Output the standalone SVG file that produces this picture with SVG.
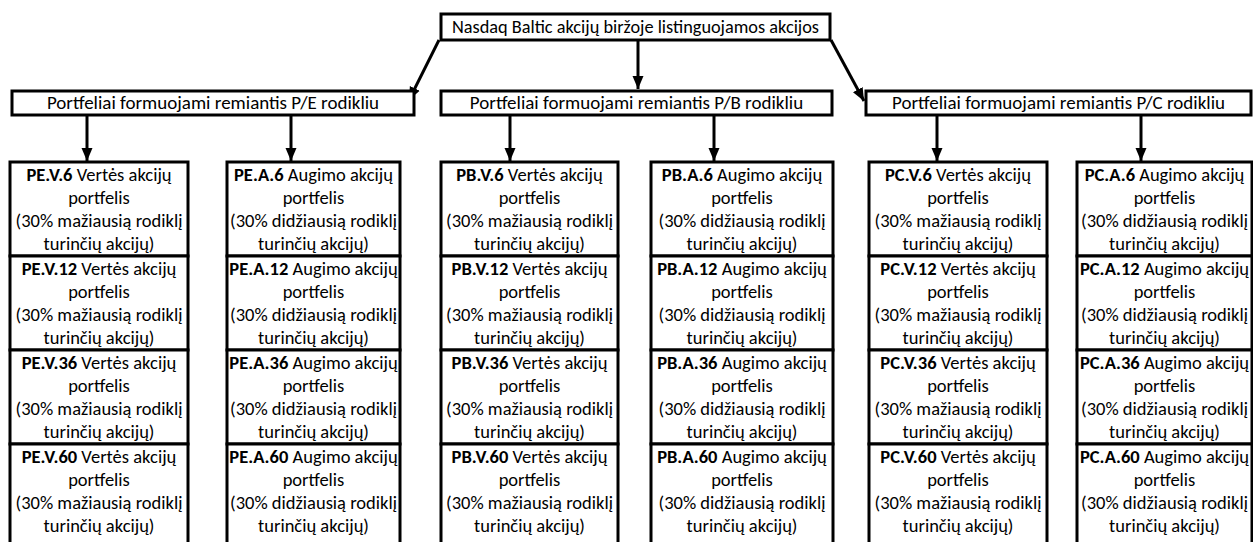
<svg xmlns="http://www.w3.org/2000/svg" width="1253" height="542" viewBox="0 0 1253 542">
<defs>
<style>
.box{fill:#fff;stroke:#000;stroke-width:3}
.t{font-family:Carlito,Lato,"Liberation Sans",sans-serif;font-size:19px;fill:#000;text-anchor:middle}
.h{font-size:18.3px}
.s{font-size:18.5px}
.b{font-weight:bold}
.c{stroke:#000;stroke-width:3;fill:none}
</style>
<marker id="ah" markerUnits="userSpaceOnUse" markerWidth="14" markerHeight="14" viewBox="0 0 14 14" refX="13" refY="7" orient="auto">
<path d="M0,1.5 L13,7 L0,12.5 Z" fill="#000"/>
</marker>
</defs>
<rect width="1253" height="542" fill="#fff"/>
<g id="connectors">
<line class="c" x1="638" y1="40" x2="638" y2="89" marker-end="url(#ah)"/>
<line class="c" x1="439" y1="40" x2="409" y2="100" marker-end="url(#ah)"/>
<line class="c" x1="831" y1="40" x2="864" y2="101" marker-end="url(#ah)"/>
<line class="c" x1="87" y1="115" x2="87" y2="161" marker-end="url(#ah)"/>
<line class="c" x1="291" y1="115" x2="291" y2="161" marker-end="url(#ah)"/>
<line class="c" x1="510" y1="115" x2="510" y2="161" marker-end="url(#ah)"/>
<line class="c" x1="714" y1="115" x2="714" y2="161" marker-end="url(#ah)"/>
<line class="c" x1="937" y1="115" x2="937" y2="161" marker-end="url(#ah)"/>
<line class="c" x1="1141" y1="115" x2="1141" y2="161" marker-end="url(#ah)"/>
</g>
<g id="root"><rect class="box" x="441" y="14" width="389" height="26"/><text class="t h" x="635.5" y="33">Nasdaq Baltic akcijų biržoje listinguojamos akcijos</text></g>
<g id="pe"><rect class="box" x="12" y="91" width="402" height="24"/><text class="t" x="213" y="109">Portfeliai formuojami remiantis P/E rodikliu</text></g>
<g id="pb"><rect class="box" x="441" y="91" width="391" height="24"/><text class="t" x="636.5" y="109">Portfeliai formuojami remiantis P/B rodikliu</text></g>
<g id="pc"><rect class="box" x="866" y="91" width="385" height="24"/><text class="t" x="1058.5" y="109">Portfeliai formuojami remiantis P/C rodikliu</text></g>

<g id="PE.V.6"><rect class="box" x="10" y="162" width="178" height="94"/><text class="t s"><tspan x="99" y="181"><tspan class="b">PE.V.6</tspan> Vertės akcijų</tspan><tspan x="99" y="204">portfelis</tspan><tspan x="99" y="227">(30% mažiausią rodiklį</tspan><tspan x="99" y="250">turinčių akcijų)</tspan></text></g>
<g id="PE.V.12"><rect class="box" x="10" y="256" width="178" height="94"/><text class="t s"><tspan x="99" y="275"><tspan class="b">PE.V.12</tspan> Vertės akcijų</tspan><tspan x="99" y="298">portfelis</tspan><tspan x="99" y="321">(30% mažiausią rodiklį</tspan><tspan x="99" y="344">turinčių akcijų)</tspan></text></g>
<g id="PE.V.36"><rect class="box" x="10" y="350" width="178" height="94"/><text class="t s"><tspan x="99" y="369"><tspan class="b">PE.V.36</tspan> Vertės akcijų</tspan><tspan x="99" y="392">portfelis</tspan><tspan x="99" y="415">(30% mažiausią rodiklį</tspan><tspan x="99" y="438">turinčių akcijų)</tspan></text></g>
<g id="PE.V.60"><rect class="box" x="10" y="444" width="178" height="102"/><text class="t s"><tspan x="99" y="463"><tspan class="b">PE.V.60</tspan> Vertės akcijų</tspan><tspan x="99" y="486">portfelis</tspan><tspan x="99" y="509">(30% mažiausią rodiklį</tspan><tspan x="99" y="532">turinčių akcijų)</tspan></text></g>

<g id="PE.A.6"><rect class="box" x="227" y="162" width="173" height="94"/><text class="t s"><tspan x="313.5" y="181"><tspan class="b">PE.A.6</tspan> Augimo akcijų</tspan><tspan x="313.5" y="204">portfelis</tspan><tspan x="313.5" y="227">(30% didžiausią rodiklį</tspan><tspan x="313.5" y="250">turinčių akcijų)</tspan></text></g>
<g id="PE.A.12"><rect class="box" x="227" y="256" width="173" height="94"/><text class="t s"><tspan x="313.5" y="275"><tspan class="b">PE.A.12</tspan> Augimo akcijų</tspan><tspan x="313.5" y="298">portfelis</tspan><tspan x="313.5" y="321">(30% didžiausią rodiklį</tspan><tspan x="313.5" y="344">turinčių akcijų)</tspan></text></g>
<g id="PE.A.36"><rect class="box" x="227" y="350" width="173" height="94"/><text class="t s"><tspan x="313.5" y="369"><tspan class="b">PE.A.36</tspan> Augimo akcijų</tspan><tspan x="313.5" y="392">portfelis</tspan><tspan x="313.5" y="415">(30% didžiausią rodiklį</tspan><tspan x="313.5" y="438">turinčių akcijų)</tspan></text></g>
<g id="PE.A.60"><rect class="box" x="227" y="444" width="173" height="102"/><text class="t s"><tspan x="313.5" y="463"><tspan class="b">PE.A.60</tspan> Augimo akcijų</tspan><tspan x="313.5" y="486">portfelis</tspan><tspan x="313.5" y="509">(30% didžiausią rodiklį</tspan><tspan x="313.5" y="532">turinčių akcijų)</tspan></text></g>

<g id="PB.V.6"><rect class="box" x="441" y="162" width="177" height="94"/><text class="t s"><tspan x="529.5" y="181"><tspan class="b">PB.V.6</tspan> Vertės akcijų</tspan><tspan x="529.5" y="204">portfelis</tspan><tspan x="529.5" y="227">(30% mažiausią rodiklį</tspan><tspan x="529.5" y="250">turinčių akcijų)</tspan></text></g>
<g id="PB.V.12"><rect class="box" x="441" y="256" width="177" height="94"/><text class="t s"><tspan x="529.5" y="275"><tspan class="b">PB.V.12</tspan> Vertės akcijų</tspan><tspan x="529.5" y="298">portfelis</tspan><tspan x="529.5" y="321">(30% mažiausią rodiklį</tspan><tspan x="529.5" y="344">turinčių akcijų)</tspan></text></g>
<g id="PB.V.36"><rect class="box" x="441" y="350" width="177" height="94"/><text class="t s"><tspan x="529.5" y="369"><tspan class="b">PB.V.36</tspan> Vertės akcijų</tspan><tspan x="529.5" y="392">portfelis</tspan><tspan x="529.5" y="415">(30% mažiausią rodiklį</tspan><tspan x="529.5" y="438">turinčių akcijų)</tspan></text></g>
<g id="PB.V.60"><rect class="box" x="441" y="444" width="177" height="102"/><text class="t s"><tspan x="529.5" y="463"><tspan class="b">PB.V.60</tspan> Vertės akcijų</tspan><tspan x="529.5" y="486">portfelis</tspan><tspan x="529.5" y="509">(30% mažiausią rodiklį</tspan><tspan x="529.5" y="532">turinčių akcijų)</tspan></text></g>

<g id="PB.A.6"><rect class="box" x="651" y="162" width="182" height="94"/><text class="t s"><tspan x="742" y="181"><tspan class="b">PB.A.6</tspan> Augimo akcijų</tspan><tspan x="742" y="204">portfelis</tspan><tspan x="742" y="227">(30% didžiausią rodiklį</tspan><tspan x="742" y="250">turinčių akcijų)</tspan></text></g>
<g id="PB.A.12"><rect class="box" x="651" y="256" width="182" height="94"/><text class="t s"><tspan x="742" y="275"><tspan class="b">PB.A.12</tspan> Augimo akcijų</tspan><tspan x="742" y="298">portfelis</tspan><tspan x="742" y="321">(30% didžiausią rodiklį</tspan><tspan x="742" y="344">turinčių akcijų)</tspan></text></g>
<g id="PB.A.36"><rect class="box" x="651" y="350" width="182" height="94"/><text class="t s"><tspan x="742" y="369"><tspan class="b">PB.A.36</tspan> Augimo akcijų</tspan><tspan x="742" y="392">portfelis</tspan><tspan x="742" y="415">(30% didžiausią rodiklį</tspan><tspan x="742" y="438">turinčių akcijų)</tspan></text></g>
<g id="PB.A.60"><rect class="box" x="651" y="444" width="182" height="102"/><text class="t s"><tspan x="742" y="463"><tspan class="b">PB.A.60</tspan> Augimo akcijų</tspan><tspan x="742" y="486">portfelis</tspan><tspan x="742" y="509">(30% didžiausią rodiklį</tspan><tspan x="742" y="532">turinčių akcijų)</tspan></text></g>

<g id="PC.V.6"><rect class="box" x="869" y="162" width="178" height="94"/><text class="t s"><tspan x="958" y="181"><tspan class="b">PC.V.6</tspan> Vertės akcijų</tspan><tspan x="958" y="204">portfelis</tspan><tspan x="958" y="227">(30% mažiausią rodiklį</tspan><tspan x="958" y="250">turinčių akcijų)</tspan></text></g>
<g id="PC.V.12"><rect class="box" x="869" y="256" width="178" height="94"/><text class="t s"><tspan x="958" y="275"><tspan class="b">PC.V.12</tspan> Vertės akcijų</tspan><tspan x="958" y="298">portfelis</tspan><tspan x="958" y="321">(30% mažiausią rodiklį</tspan><tspan x="958" y="344">turinčių akcijų)</tspan></text></g>
<g id="PC.V.36"><rect class="box" x="869" y="350" width="178" height="94"/><text class="t s"><tspan x="958" y="369"><tspan class="b">PC.V.36</tspan> Vertės akcijų</tspan><tspan x="958" y="392">portfelis</tspan><tspan x="958" y="415">(30% mažiausią rodiklį</tspan><tspan x="958" y="438">turinčių akcijų)</tspan></text></g>
<g id="PC.V.60"><rect class="box" x="869" y="444" width="178" height="102"/><text class="t s"><tspan x="958" y="463"><tspan class="b">PC.V.60</tspan> Vertės akcijų</tspan><tspan x="958" y="486">portfelis</tspan><tspan x="958" y="509">(30% mažiausią rodiklį</tspan><tspan x="958" y="532">turinčių akcijų)</tspan></text></g>

<g id="PC.A.6"><rect class="box" x="1077" y="162" width="175" height="94"/><text class="t s"><tspan x="1164.5" y="181"><tspan class="b">PC.A.6</tspan> Augimo akcijų</tspan><tspan x="1164.5" y="204">portfelis</tspan><tspan x="1164.5" y="227">(30% didžiausią rodiklį</tspan><tspan x="1164.5" y="250">turinčių akcijų)</tspan></text></g>
<g id="PC.A.12"><rect class="box" x="1077" y="256" width="175" height="94"/><text class="t s"><tspan x="1164.5" y="275"><tspan class="b">PC.A.12</tspan> Augimo akcijų</tspan><tspan x="1164.5" y="298">portfelis</tspan><tspan x="1164.5" y="321">(30% didžiausią rodiklį</tspan><tspan x="1164.5" y="344">turinčių akcijų)</tspan></text></g>
<g id="PC.A.36"><rect class="box" x="1077" y="350" width="175" height="94"/><text class="t s"><tspan x="1164.5" y="369"><tspan class="b">PC.A.36</tspan> Augimo akcijų</tspan><tspan x="1164.5" y="392">portfelis</tspan><tspan x="1164.5" y="415">(30% didžiausią rodiklį</tspan><tspan x="1164.5" y="438">turinčių akcijų)</tspan></text></g>
<g id="PC.A.60"><rect class="box" x="1077" y="444" width="175" height="102"/><text class="t s"><tspan x="1164.5" y="463"><tspan class="b">PC.A.60</tspan> Augimo akcijų</tspan><tspan x="1164.5" y="486">portfelis</tspan><tspan x="1164.5" y="509">(30% didžiausią rodiklį</tspan><tspan x="1164.5" y="532">turinčių akcijų)</tspan></text></g>
</svg>
